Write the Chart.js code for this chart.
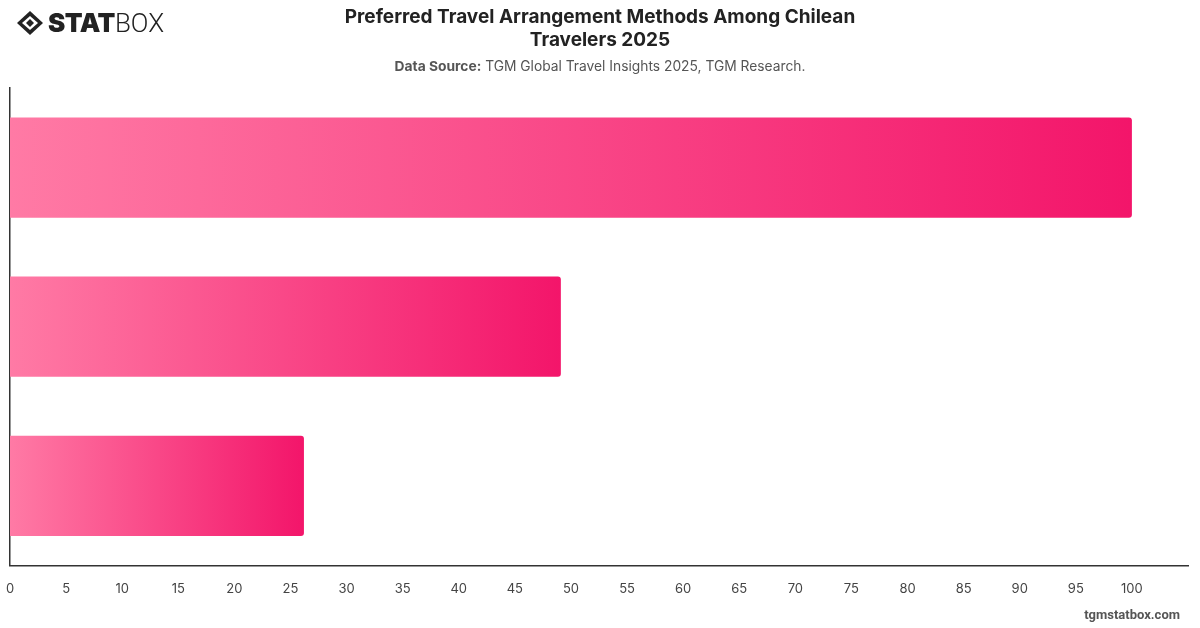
<!DOCTYPE html>
<html>
<head>
<meta charset="utf-8">
<script src="https://cdn.jsdelivr.net/npm/chart.js@4.4.1/dist/chart.umd.min.js"></script>
<style>
  body { margin: 0; background: #fff; font-family: Inter, "Noto Sans", sans-serif; }
  #wrap { position: relative; width: 1200px; height: 628px; overflow: hidden; }
  #grafico { position: absolute; left: 0; top: 0; }
  #logo { position: absolute; left: 16px; top: 7px; display: flex; align-items: center; }
  #logo span.stat { font-family: Inter, sans-serif; font-weight: 900; font-size: 26px; color: #222; letter-spacing: -0.5px; margin-left: 4px; }
  #logo span.box { font-family: Roboto, sans-serif; font-weight: 300; font-size: 26px; color: #222; }
  #titulo { position: absolute; left: 0; width: 1200px; top: 5px; text-align: center; font-weight: 700; font-size: 19px; line-height: 23px; color: #222; }
  #fuente { position: absolute; left: 0; width: 1200px; top: 58px; text-align: center; font-size: 13.8px; color: #555; }
  #fuente b { font-weight: 700; }
  #pie { position: absolute; right: 20px; top: 607px; font-family: Roboto, sans-serif; font-weight: 700; font-size: 13px; color: #555; }
</style>
</head>
<body>
<div id="wrap">
  <canvas id="grafico" width="1200" height="628"></canvas>
  <div id="logo">
    <svg width="28" height="26" viewBox="0 0 28 26">
      <polygon points="14,1 27,13 14,25 1,13" fill="#222"/>
      <polygon points="14,6 22,13 14,20 6,13" fill="#fff"/>
      <polygon points="14,9 18,13 14,17 10,13" fill="#222"/>
    </svg>
    <span class="stat">STAT</span><span class="box">BOX</span>
  </div>
  <div id="titulo">Preferred Travel Arrangement Methods Among Chilean<br>Travelers 2025</div>
  <div id="fuente"><b>Data Source:</b> TGM Global Travel Insights 2025, TGM Research.</div>
  <div id="pie">tgmstatbox.com</div>
</div>
<script>
// datos
const metodos = ["Online booking platforms", "Travel agencies", "Direct with providers"];
const porcentajes = [100, 49.1, 26.2];
const ticksEje = [0, 5, 10, 15, 20, 25, 30, 35, 40, 45, 50, 55, 60, 65, 70, 75, 80, 85, 90, 95, 100];

const colorInicio = "#ff7aa5";
const colorFin = "#f3156a";

function degradadoBarra(context) {
  const chart = context.chart;
  const area = chart.chartArea;
  if (!area) return colorFin;
  const escalaX = chart.scales.x;
  const valor = context.raw;
  const finX = escalaX.getPixelForValue(valor);
  const g = chart.ctx.createLinearGradient(area.left, 0, finX, 0);
  g.addColorStop(0, colorInicio);
  g.addColorStop(1, colorFin);
  return g;
}

const etiquetaGrafico = document.getElementById("grafico");

const config = {
  type: "bar",
  data: {
    labels: metodos,
    datasets: [
      {
        data: porcentajes,
        backgroundColor: degradadoBarra,
        borderRadius: 3,
        borderSkipped: "start",
        barPercentage: 0.7,
        categoryPercentage: 0.9,
      },
    ],
  },
  options: {
    indexAxis: "y",
    responsive: false,
    animation: false,
    layout: { padding: { top: 88, left: 10, right: 12, bottom: 15 } },
    plugins: { legend: { display: false }, tooltip: { enabled: false } },
    scales: {
      x: {
        min: 0,
        max: 105,
        afterBuildTicks: (eje) => {
          eje.ticks = ticksEje.map((v) => ({ value: v }));
        },
        afterFit: (eje) => {
          eje.paddingLeft = 0;
          eje.paddingRight = 0;
        },
        grid: { display: false, drawTicks: false },
        border: { display: true, color: "#333", width: 1.5 },
        ticks: {
          padding: 16,
          color: "#444",
          font: { family: "Inter", size: 13 },
          maxRotation: 0,
          autoSkip: false,
        },
      },
      y: {
        afterFit: (eje) => {
          eje.width = 0;
        },
        grid: { display: false, drawTicks: false },
        border: { display: true, color: "#333", width: 1.5 },
        ticks: { display: false },
      },
    },
  },
};

new Chart(etiquetaGrafico, config);
</script>
</body>
</html>
